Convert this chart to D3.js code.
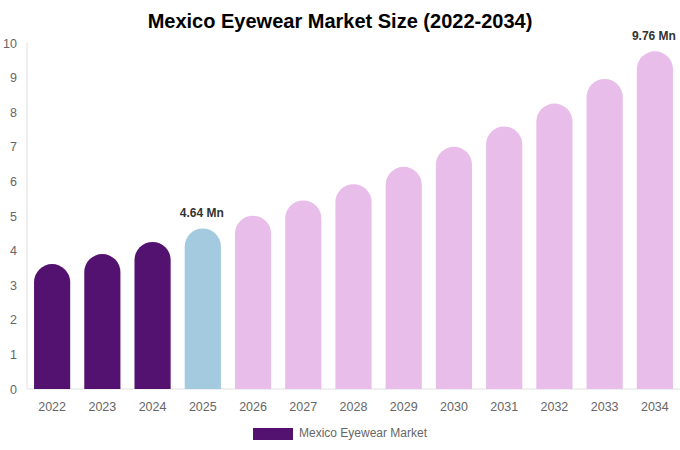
<!DOCTYPE html>
<html>
<head>
<meta charset="utf-8">
<script src="https://cdn.jsdelivr.net/npm/d3@7"></script>
<style>
  body { margin: 0; background: #fff; }
  svg { font-family: "Liberation Sans", Arial, sans-serif; }
</style>
</head>
<body>
<svg id="chart" width="680" height="450"></svg>
<script>
const years = ["2022", "2023", "2024", "2025", "2026", "2027", "2028", "2029", "2030", "2031", "2032", "2033", "2034"];
const values = [3.61, 3.9, 4.25, 4.64, 5.01, 5.45, 5.92, 6.42, 7.0, 7.59, 8.25, 8.96, 9.76];
const labelled = ["2025", "2034"];
const yTicks = [0, 1, 2, 3, 4, 5, 6, 7, 8, 9, 10];

const width = 680, height = 450;
const margin = {top: 43, right: 0, bottom: 61, left: 27};
const svg = d3.select("#chart");

const x = d3.scaleBand()
    .domain(years)
    .range([margin.left, width - margin.right])
    .paddingInner(0.28)
    .paddingOuter(0.14);
const y = d3.scaleLinear()
    .domain([0, 10])
    .range([height - margin.bottom, margin.top]);

function barColor(yr) {
    if (+yr < 2025) return "#541270";
    if (+yr === 2025) return "#a3cadf";
    return "#e8bde9";
}

// title
svg.append("text")
    .attr("x", width / 2)
    .attr("y", 28)
    .attr("text-anchor", "middle")
    .attr("font-size", 20)
    .attr("font-weight", "bold")
    .attr("fill", "#000")
    .text("Mexico Eyewear Market Size (2022-2034)");

// axes lines
svg.append("line")
    .attr("x1", margin.left).attr("x2", margin.left)
    .attr("y1", y(10)).attr("y2", y(0))
    .attr("stroke", "#e0e0e0");
svg.append("line")
    .attr("x1", margin.left).attr("x2", width)
    .attr("y1", y(0)).attr("y2", y(0))
    .attr("stroke", "#e0e0e0");

// y tick labels
svg.append("g").selectAll("text")
    .data(yTicks)
    .join("text")
    .attr("x", 17)
    .attr("y", d => y(d) + 4.5)
    .attr("text-anchor", "end")
    .attr("font-size", 12.5)
    .attr("fill", "#666")
    .text(d => d);

// x tick labels
svg.append("g").selectAll("text")
    .data(years)
    .join("text")
    .attr("x", d => x(d) + x.bandwidth() / 2)
    .attr("y", y(0) + 22)
    .attr("text-anchor", "middle")
    .attr("font-size", 12.5)
    .attr("fill", "#666")
    .text(d => d);

// bars with rounded tops
const bw = x.bandwidth();
const r = bw / 2;
function barPath(yr, v) {
    const x0 = x(yr), x1 = x0 + bw;
    const top = y(v), base = y(0);
    return `M${x0},${base} L${x0},${top + r} A${r},${r} 0 0 1 ${x1},${top + r} L${x1},${base} Z`;
}
svg.append("g").selectAll("path")
    .data(years)
    .join("path")
    .attr("d", (d, i) => barPath(d, values[i]))
    .attr("fill", d => barColor(d));

// value labels
svg.append("g").selectAll("text")
    .data(years.filter(d => labelled.includes(d)))
    .join("text")
    .attr("x", d => x(d) + bw / 2 - 1)
    .attr("y", d => y(values[years.indexOf(d)]) - 11)
    .attr("text-anchor", "middle")
    .attr("font-size", 12)
    .attr("font-weight", "bold")
    .attr("fill", "#333")
    .text(d => values[years.indexOf(d)].toFixed(2) + " Mn");

// legend
svg.append("rect")
    .attr("x", 253).attr("y", 428)
    .attr("width", 40).attr("height", 12)
    .attr("fill", "#541270");
svg.append("text")
    .attr("x", 299).attr("y", 437)
    .attr("font-size", 12)
    .attr("fill", "#666")
    .text("Mexico Eyewear Market");
</script>
</body>
</html>
